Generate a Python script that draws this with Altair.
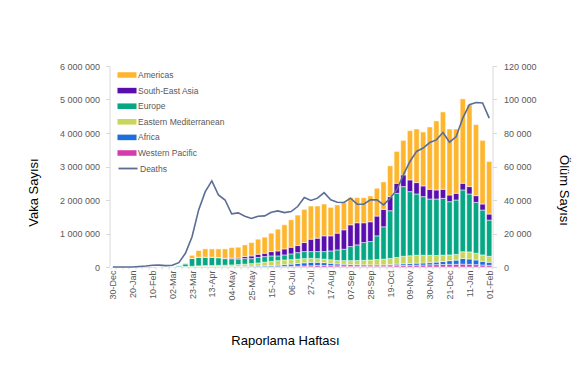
import json
import altair as alt
import pandas as pd

weeks = ["30-Dec","06-Jan","13-Jan","20-Jan","27-Jan","03-Feb","10-Feb","17-Feb","24-Feb","02-Mar",
         "09-Mar","16-Mar","23-Mar","30-Mar","06-Apr","13-Apr","20-Apr","27-Apr","04-May","11-May",
         "18-May","25-May","01-Jun","08-Jun","15-Jun","22-Jun","29-Jun","06-Jul","13-Jul","20-Jul",
         "27-Jul","03-Aug","10-Aug","17-Aug","24-Aug","31-Aug","07-Sep","14-Sep","21-Sep","28-Sep",
         "05-Oct","12-Oct","19-Oct","26-Oct","02-Nov","09-Nov","16-Nov","23-Nov","30-Nov","07-Dec",
         "14-Dec","21-Dec","28-Dec","04-Jan","11-Jan","18-Jan","25-Jan","01-Feb"]
tick_labels = weeks[::3]

# weekly cases, thousands
western_pacific = [0,0,0,1,12,22,30,9,5,5, 3,5,8,10,12,10,8,6,5,5,
                   5,5,6,6,8,10,15,20,25,30, 35,45,45,40,35,32,30,28,27,28,
                   28,30,35,40,45,50,55,60,65,70, 75,80,80,85,80,70,60,50]
africa = [0,0,0,0,0,0,0,0,0,0, 0,1,2,4,5,6,7,8,11,13,
          16,20,25,30,35,45,55,65,80,95, 105,95,85,70,55,50,45,40,38,35,
          35,35,40,45,50,55,60,60,65,75, 90,110,125,170,160,140,110,90]
eastern_med = [0,0,0,0,0,0,0,0,0.3,6, 8,10,12,20,25,30,35,40,45,55,
               65,75,90,110,125,135,140,135,130,125, 120,110,105,105,105,110,115,125,135,145,
               160,170,180,200,225,230,235,230,220,200, 190,170,170,200,210,200,190,180]
europe = [0,0,0,0,0,0,0,0,1,8, 40,80,235,255,245,240,225,195,185,165,
          165,150,165,165,162,140,150,170,195,210, 200,210,225,265,315,338,420,467,530,552,
          707,965,1425,1915,2080,1915,1830,1750,1680,1685, 1695,1590,1625,1845,1730,1520,1340,1080]
south_east_asia = [0,0,0,0,0,0,0,0,0,0, 0.2,0.5,1,3,5,8,10,12,20,28,
                   60,80,94,100,130,150,180,200,210,270, 370,400,470,450,500,580,650,660,590,590,
                   590,520,420,300,350,350,340,320,290,270, 270,200,200,200,220,200,180,180]
americas = [0,0,0,0,0,0,0,0,0,0.5, 3,20,90,200,250,246,255,280,314,324,
            349,400,450,479,550,650,720,820,910,990, 990,960,950,850,840,810,810,750,750,770,
            830,820,920,950,1030,1470,1600,1610,1860,2060, 2310,1970,1920,2520,2440,2120,1900,1570]
deaths = [0,0,0,20,300,600,1000,1100,800,1000,
          2600,8200,18100,34100,45000,51400,43000,40000,31700,32300,
          30300,29000,30300,30500,32700,33500,32500,33100,36100,41500,
          39700,41100,44400,40100,38700,38500,41100,37500,37500,40100,
          40100,37100,41000,46000,55000,63000,69000,71000,74300,75900,
          80300,74500,77900,88900,96900,98200,97900,88900]

regions = ["Americas", "South-East Asia", "Europe", "Eastern Mediterranean", "Africa", "Western Pacific"]
colors = ["#FFB62F", "#5A0EAE", "#06A785", "#C9D65C", "#1C6FDD", "#D23DAB"]
stack_series = [("Western Pacific", western_pacific), ("Africa", africa),
                ("Eastern Mediterranean", eastern_med), ("Europe", europe),
                ("South-East Asia", south_east_asia), ("Americas", americas)]

rows = []
for i, w in enumerate(weeks):
    for k, (name, vals) in enumerate(stack_series):
        rows.append({"week": w, "region": name, "cases": vals[i] * 1000, "ord": k})
df = pd.DataFrame(rows)
ddf = pd.DataFrame({"week": weeks, "deaths": deaths, "series": "Deaths"})

FONT = "Liberation Sans"
LAB = "#595959"
LINE = "#D9D9D9"
space_fmt = "replace(replace(format(datum.value, ','), ',', ' '), ',', ' ')"

x_axis = alt.Axis(
    labelExpr="indexof(" + json.dumps(tick_labels) + ", datum.label) >= 0 ? datum.label : ''",
    labelAngle=270, labelFontSize=9, labelColor=LAB, labelFont=FONT, labelPadding=1,
    tickBand="extent", tickSize=2, tickColor=LINE, domainColor=LINE,
    title="Raporlama Haftası", titleX=175.5, titleY=73, titleFontSize=13,
    titleFontWeight="normal", titleColor="#000000", titleFont=FONT, titleBaseline="middle",
)

x = alt.X("week:N", sort=weeks, scale=alt.Scale(paddingInner=0.2, paddingOuter=0.1), axis=x_axis)

bars = alt.Chart(df).mark_bar(stroke="white", strokeWidth=0.5).encode(
    x=x,
    y=alt.Y("cases:Q", stack="zero", scale=alt.Scale(domain=[0, 6000000], nice=False),
            axis=alt.Axis(values=[0, 1e6, 2e6, 3e6, 4e6, 5e6, 6e6], labelExpr=space_fmt,
                          labelFontSize=9, labelColor=LAB, labelFont=FONT, labelPadding=6,
                          tickSize=4, tickColor=LINE, domainColor=LINE,
                          title="Vaka Sayısı", titleX=-76.5, titleY=126, titleAngle=270,
                          titleFontSize=13, titleFontWeight="normal", titleColor="#000000",
                          titleFont=FONT, titleBaseline="middle", titleAlign="center")),
    fill=alt.Fill("region:N", scale=alt.Scale(domain=regions, range=colors),
                  legend=alt.Legend(title=None, orient="none", legendX=10, legendY=1.5,
                                    symbolType="M-1.27,-0.37H1.27V0.37H-1.27Z", symbolSize=225,
                                    symbolStrokeWidth=0, labelFontSize=8.5, labelColor=LAB,
                                    labelFont=FONT, labelOffset=3.5, rowPadding=3.6)),
    order=alt.Order("ord:Q"),
)

line = alt.Chart(ddf).mark_line(strokeWidth=1.6).encode(
    x=alt.X("week:N", sort=weeks),
    y=alt.Y("deaths:Q", scale=alt.Scale(domain=[0, 120000], nice=False),
            axis=alt.Axis(orient="right", values=[0, 20000, 40000, 60000, 80000, 100000, 120000],
                          labelExpr=space_fmt, labelFontSize=9, labelColor=LAB, labelFont=FONT,
                          labelPadding=7, tickSize=4, tickColor=LINE, domainColor=LINE,
                          title="Ölüm Sayısı", titleX=70.5, titleY=124, titleAngle=90,
                          titleFontSize=13, titleFontWeight="normal", titleColor="#000000",
                          titleFont=FONT, titleBaseline="middle", titleAlign="center")),
    stroke=alt.Stroke("series:N", scale=alt.Scale(domain=["Deaths"], range=["#5A6D95"]),
                      legend=alt.Legend(title=None, orient="none", legendX=10, legendY=94,
                                        symbolType="M-1.27,0H1.27", symbolSize=225,
                                        symbolStrokeWidth=1.8, labelFontSize=8.5, labelColor=LAB,
                                        labelFont=FONT, labelOffset=3.5)),
)

chart = alt.layer(bars, line).resolve_scale(y="independent").properties(
    width=383, height=201,
    padding={"left": 109.5, "top": 66, "right": 81.5, "bottom": 108},
    autosize=alt.AutoSizeParams(type="none"),
    background="white",
).configure_view(stroke=None).configure_axis(grid=False)

chart.save("out.html", embed_options={"renderer": "svg", "actions": False})
